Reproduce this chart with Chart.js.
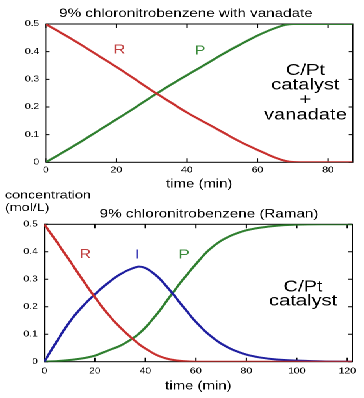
<!DOCTYPE html>
<html>
<head>
<meta charset="utf-8">
<script src="https://cdn.jsdelivr.net/npm/chart.js@4"></script>
<style>
  body { margin: 0; background: #fff; }
  #wrap { position: relative; width: 280px; height: 398px; transform: scaleX(1.3); transform-origin: 0 0; }
  #wrap canvas { position: absolute; left: 0; }
</style>
</head>
<body>
<div id="wrap">
  <canvas id="chart-top" width="280" height="195" style="top:0"></canvas>
  <canvas id="chart-bottom" width="280" height="213" style="top:185px"></canvas>
</div>
<script>
// top panel: with vanadate
const topTime = [0, 5, 10, 15, 20, 25, 30, 35, 40, 45, 50, 55, 60, 65, 68, 70, 75, 80, 87];
const topR = [0.5, 0.463, 0.425, 0.385, 0.345, 0.303, 0.26, 0.22, 0.18, 0.145, 0.11, 0.075, 0.045, 0.017, 0.005, 0.001, 0, 0, 0];
const topP = [0, 0.037, 0.075, 0.115, 0.155, 0.195, 0.237, 0.277, 0.315, 0.352, 0.39, 0.425, 0.458, 0.485, 0.497, 0.5, 0.5, 0.5, 0.5];

// bottom panel: Raman
const botTime = [0, 5, 10, 15, 20, 25, 30, 35, 37.5, 40, 45, 50, 55, 60, 65, 70, 75, 80, 85, 90, 95, 100, 110, 122];
const botR = [0.5, 0.435, 0.368, 0.3, 0.235, 0.175, 0.125, 0.083, 0.064, 0.048, 0.022, 0.008, 0.002, 0, 0, 0, 0, 0, 0, 0, 0, 0, 0, 0];
const botI = [0, 0.075, 0.145, 0.2, 0.245, 0.285, 0.318, 0.34, 0.346, 0.341, 0.308, 0.257, 0.2, 0.145, 0.1, 0.066, 0.042, 0.026, 0.016, 0.01, 0.006, 0.004, 0.001, 0];
const botP = [0, 0.002, 0.006, 0.012, 0.022, 0.04, 0.058, 0.085, 0.102, 0.124, 0.178, 0.24, 0.3, 0.355, 0.405, 0.44, 0.463, 0.478, 0.487, 0.493, 0.497, 0.499, 0.5, 0.5];

const xTicksTop = [0, 20, 40, 60, 80];
const xTicksBot = [0, 20, 40, 60, 80, 100, 120];

const RED = '#c8302e';
const GREEN = '#2f7f2f';
const BLUE = '#1f1fa0';
const FONT = "'Liberation Sans', Arial, sans-serif";

function pairs(xs, ys) {
  return xs.map((x, i) => ({ x, y: ys[i] }));
}

function line(label, xs, ys, color) {
  return {
    label,
    data: pairs(xs, ys),
    borderColor: color,
    borderWidth: 2,
    pointRadius: 0,
    cubicInterpolationMode: 'monotone',
    fill: false,
  };
}

// box, inward ticks on all four sides, and free text
const framePlugin = {
  id: 'frame',
  beforeDatasetsDraw(chart) {
    const { ctx, chartArea: a, scales: { x, y } } = chart;
    ctx.save();
    ctx.strokeStyle = '#000';
    ctx.lineWidth = 1;
    ctx.strokeRect(a.left, a.top, a.right - a.left, a.bottom - a.top);
    ctx.beginPath();
    x.ticks.forEach((t) => {
      const px = x.getPixelForValue(t.value);
      ctx.moveTo(px, a.bottom); ctx.lineTo(px, a.bottom - 4);
      ctx.moveTo(px, a.top); ctx.lineTo(px, a.top + 4);
    });
    y.ticks.forEach((t) => {
      const py = y.getPixelForValue(t.value);
      ctx.moveTo(a.left, py); ctx.lineTo(a.left + 3, py);
      ctx.moveTo(a.right, py); ctx.lineTo(a.right - 3, py);
    });
    ctx.stroke();
    ctx.restore();
  },
  afterDraw(chart, args, opts) {
    const { ctx, scales: { x, y } } = chart;
    ctx.save();
    (opts.texts || []).forEach((t) => {
      const px = t.data ? x.getPixelForValue(t.x) : t.x;
      const py = t.data ? y.getPixelForValue(t.y) : t.y;
      ctx.font = `${t.size}px ${FONT}`;
      ctx.fillStyle = t.color || '#000';
      ctx.textAlign = t.align || 'center';
      ctx.textBaseline = t.baseline || 'alphabetic';
      ctx.fillText(t.text, px, py);
    });
    ctx.restore();
  },
};

function makeChart(id, cfg) {
  return new Chart(document.getElementById(id), {
    type: 'line',
    data: { datasets: cfg.datasets },
    plugins: [framePlugin],
    options: {
      responsive: false,
      animation: false,
      devicePixelRatio: 2,
      layout: { padding: { left: 0, right: cfg.padRight, top: cfg.padTop, bottom: 0 } },
      plugins: {
        legend: { display: false },
        tooltip: { enabled: false },
        frame: { texts: cfg.texts },
      },
      scales: {
        x: {
          type: 'linear',
          min: 0,
          max: cfg.xMax,
          grid: { display: false, drawTicks: false },
          border: { display: false },
          afterBuildTicks: (s) => { s.ticks = cfg.xTicks.map((v) => ({ value: v })); },
          afterFit: (s) => { s.height = cfg.xHeight; },
          ticks: { color: '#000', font: { family: FONT, size: 8 }, padding: cfg.xPad, maxRotation: 0, callback: (v) => String(v) },
          title: { display: true, text: 'time (min)', color: '#000', font: { family: FONT, size: 11.5 }, padding: { top: 2, bottom: cfg.titlePad } },
        },
        y: {
          min: 0,
          max: 0.5,
          grid: { display: false, drawTicks: false },
          border: { display: false },
          afterFit: (s) => { s.width = cfg.yWidth; },
          ticks: { stepSize: 0.1, color: '#000', font: { family: FONT, size: 8 }, padding: 5, callback: (v) => (v === 0 ? '0' : v.toFixed(1)) },
        },
      },
    },
  });
}

makeChart('chart-top', {
  datasets: [line('R', topTime, topR, RED), line('P', topTime, topP, GREEN)],
  xMax: 87,
  xTicks: xTicksTop,
  padTop: 24,
  padRight: 8.7,
  yWidth: 35.2,
  xHeight: 32.7,
  xPad: 3,
  titlePad: 4,
  texts: [
    { text: '9% chloronitrobenzene with vanadate', x: 143, y: 13.8, size: 11.7, baseline: 'middle' },
    { text: 'R', x: 20.9, y: 0.406, data: true, size: 12.5, color: '#c04040', baseline: 'middle' },
    { text: 'P', x: 43.7, y: 0.403, data: true, size: 12.5, color: '#3a8a3a', baseline: 'middle' },
    { text: 'C/Pt', x: 73.6, y: 0.316, data: true, size: 15.5 },
    { text: 'catalyst', x: 73.6, y: 0.263, data: true, size: 15.5 },
    { text: '+', x: 73.6, y: 0.209, data: true, size: 15.5 },
    { text: 'vanadate', x: 73.6, y: 0.155, data: true, size: 15.5 },
  ],
});

makeChart('chart-bottom', {
  datasets: [line('R', botTime, botR, RED), line('I', botTime, botI, BLUE), line('P', botTime, botP, GREEN)],
  xMax: 122,
  xTicks: xTicksBot,
  padTop: 39.3,
  padRight: 9,
  yWidth: 34.1,
  xHeight: 36.3,
  xPad: 5,
  titlePad: 5,
  texts: [
    { text: 'concentration', x: 3.8, y: 13.5, size: 11, align: 'left' },
    { text: '(mol/L)', x: 3.8, y: 26, size: 11, align: 'left' },
    { text: '9% chloronitrobenzene (Raman)', x: 160.8, y: 29.5, size: 11.7, baseline: 'middle' },
    { text: 'R', x: 16.2, y: 0.39, data: true, size: 12.5, color: '#c04040', baseline: 'middle' },
    { text: 'I', x: 36.7, y: 0.388, data: true, size: 12.5, color: '#2a2ab0', baseline: 'middle' },
    { text: 'P', x: 55.3, y: 0.388, data: true, size: 12.5, color: '#3a8a3a', baseline: 'middle' },
    { text: 'C/Pt', x: 102.5, y: 0.255, data: true, size: 15.5 },
    { text: 'catalyst', x: 102.5, y: 0.205, data: true, size: 15.5 },
  ],
});
</script>
</body>
</html>
